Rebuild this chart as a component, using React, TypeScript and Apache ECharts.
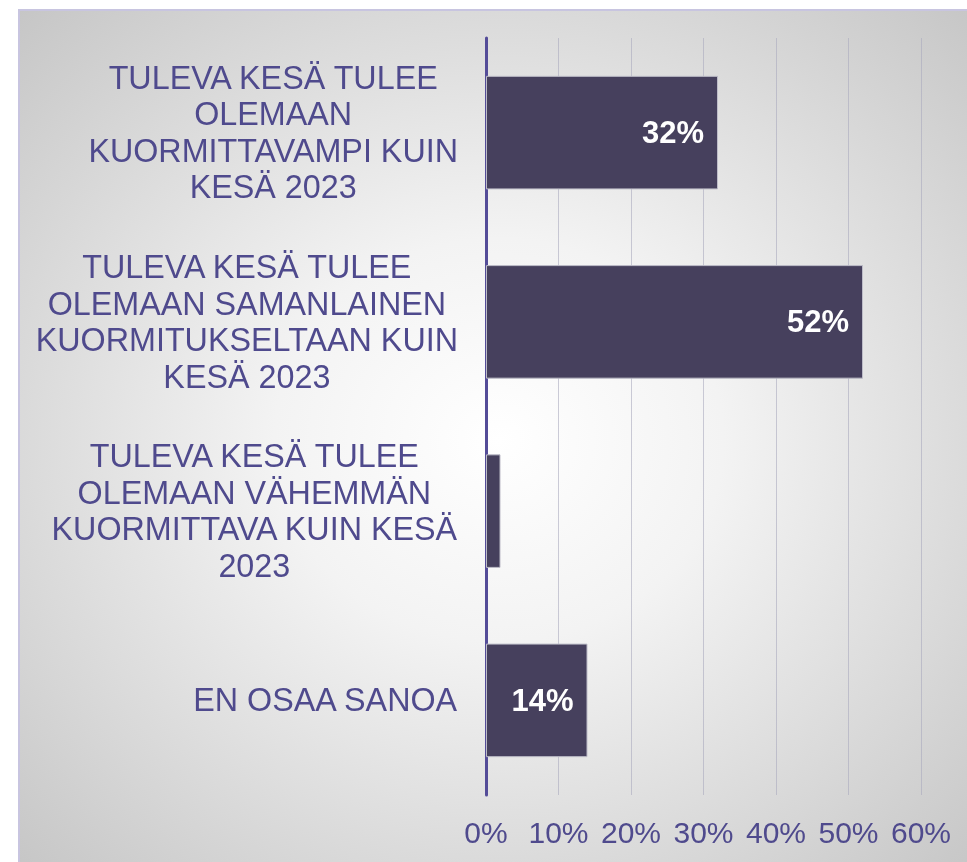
import React, { useEffect, useRef } from "react";
import * as echarts from "echarts";

const categories = [
  "TULEVA KESÄ TULEE\nOLEMAAN\nKUORMITTAVAMPI KUIN\nKESÄ 2023",
  "TULEVA KESÄ TULEE\nOLEMAAN SAMANLAINEN\nKUORMITUKSELTAAN KUIN\nKESÄ 2023",
  "TULEVA KESÄ TULEE\nOLEMAAN VÄHEMMÄN\nKUORMITTAVA KUIN KESÄ\n2023",
  "EN OSAA SANOA",
];
const values = [32, 52, 2, 14];
const showLabel = [true, true, false, true];
const axisMin = 0;
const axisMax = 60;
const axisInterval = 10;

const TEXT = "#4f4a8d";
const FONT = "'Liberation Sans', Arial, sans-serif";

export default function App() {
  const ref = useRef<HTMLDivElement>(null);
  useEffect(() => {
    if (!ref.current) return;
    const chart = echarts.init(ref.current, null, { renderer: "svg" });
    chart.setOption({
      animation: false,
      graphic: [
        {
          type: "rect",
          z: -100,
          silent: true,
          shape: { x: 19, y: 10, width: 960, height: 860 },
          style: {
            fill: {
              type: "radial",
              x: 0.5,
              y: 0.5,
              r: 0.78,
              colorStops: [
                { offset: 0, color: "#ffffff" },
                { offset: 0.3, color: "#f3f3f3" },
                { offset: 1, color: "#bfbfbf" },
              ],
            },
            stroke: "#c8c5e0",
            lineWidth: 2,
          },
        },
      ],
      grid: { left: 486, right: 46, top: 38, bottom: 67, containLabel: false },
      xAxis: {
        type: "value",
        min: axisMin,
        max: axisMax,
        interval: axisInterval,
        axisLine: { show: false },
        axisTick: { show: false },
        splitLine: { show: true, lineStyle: { color: "rgba(170,170,190,0.6)", width: 1 } },
        axisLabel: {
          color: TEXT,
          fontFamily: FONT,
          fontSize: 30,
          margin: 22,
          formatter: (v: number) => v + "%",
        },
      },
      yAxis: {
        type: "category",
        inverse: true,
        data: categories,
        axisLine: { show: true, lineStyle: { color: "#544c98", width: 3 } },
        axisTick: { show: false },
        axisLabel: {
          margin: 28,
          align: "right",
          formatter: (v: string) => `{c|${v}}`,
          rich: {
            c: {
              align: "center",
              color: TEXT,
              fontFamily: FONT,
              fontSize: 32.3,
              lineHeight: 36.5,
            },
          },
        },
      },
      series: [
        {
          type: "bar",
          data: values.map((v, i) => ({ value: v, label: { show: showLabel[i] } })),
          barCategoryGap: "40%",
          itemStyle: { color: "#46405d", borderColor: "#bdbcc8", borderWidth: 1 },
          label: {
            show: true,
            position: "insideRight",
            distance: 14,
            color: "#ffffff",
            fontFamily: FONT,
            fontWeight: "bold",
            fontSize: 31,
            formatter: (p: any) => p.value + "%",
          },
        },
      ],
    });
    return () => chart.dispose();
  }, []);
  return (
    <div
      ref={ref}
      style={{ position: "fixed", left: 0, top: 0, width: 967, height: 862 }}
    />
  );
}
